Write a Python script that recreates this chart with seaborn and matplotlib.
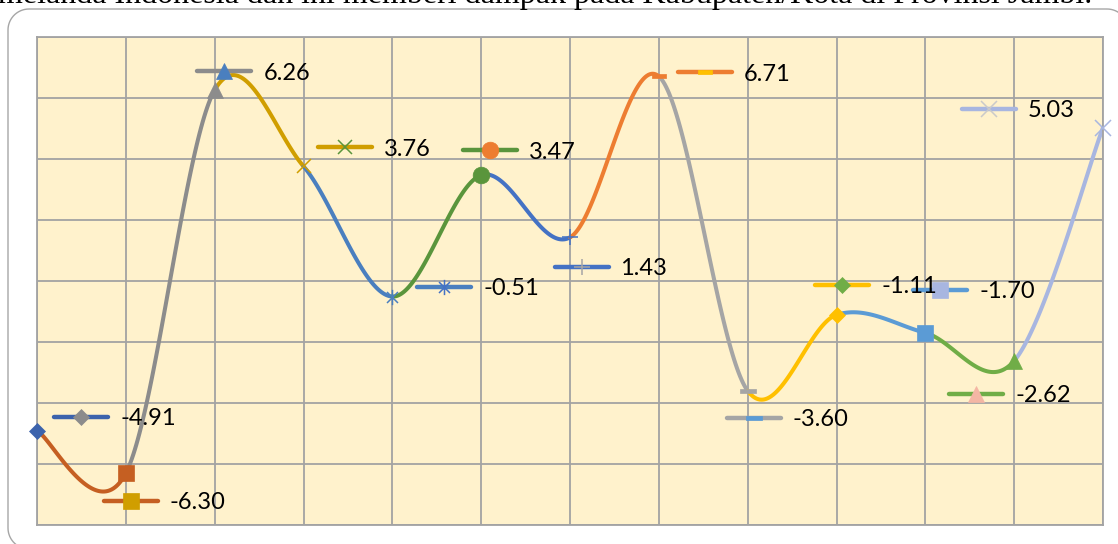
import numpy as np
import pandas as pd
import matplotlib
matplotlib.use("Agg")
import matplotlib.pyplot as plt
import seaborn as sns
from matplotlib.path import Path
from matplotlib.patches import PathPatch

# ---- data -------------------------------------------------------------
positions = list(range(13))
values = [-4.91, -6.30, 6.26, 3.76, -0.51, 3.47, 1.43, 6.71, -3.60, -1.11, -1.70, -2.62, 5.03]

# per-point colours (two extra entries are used by the last label keys)
point_colors = ["#3C63AC", "#C55F22", "#8C8C8C", "#D09E00", "#4A7FBF", "#5A953C",
                "#4472C4", "#ED7D31", "#A5A5A5", "#FFC000", "#5B9BD5", "#70AD47",
                "#A8B6E0", "#F4B6A4", "#CACACA"]

caption = "melanda Indonesia dan ini memberi dampak pada Kabupaten/Kota di Provinsi Jambi."

# ---- marker shapes ----------------------------------------------------
asterisk = Path([(0, -1), (0, 1), (-0.72, -0.72), (0.72, 0.72), (-0.72, 0.72), (0.72, -0.72)],
                [Path.MOVETO, Path.LINETO, Path.MOVETO, Path.LINETO, Path.MOVETO, Path.LINETO])
dash = Path([(-1, -0.24), (1, -0.24), (1, 0.24), (-1, 0.24), (-1, -0.24)],
            [Path.MOVETO, Path.LINETO, Path.LINETO, Path.LINETO, Path.CLOSEPOLY])

# (marker, size in pt, filled?)
marker_styles = [("D", 8.2, True), ("s", 11.5, True), ("^", 11.0, True), ("x", 10.0, False),
                 (asterisk, 11.0, False), ("o", 12.0, True), ("+", 11.0, False), (dash, 10.0, True),
                 (dash, 12.0, True), ("D", 8.2, True), ("s", 11.5, True), ("^", 11.0, True),
                 ("x", 11.0, False)]

# label key placement: offset of key centre from its point, in pixels (right, down)
label_offsets = [(44, -14), (4.7, 27.5), (9.8, -19), (41.5, -19.3), (51.7, -9.6), (8.8, -25),
                 (11.5, 29.6), (46, -4), (6.3, 27), (6, -30), (15, -43), (-38, 33), (-114, -18.6)]

# ---- smoothed path (Bezier through every point) -----------------------
def bezier_segment(pts, i, n=60):
    last = len(pts) - 1
    p0 = pts[max(i - 1, 0)]
    p1 = pts[i]
    p2 = pts[i + 1]
    p3 = pts[min(i + 2, last)]
    c1 = p1 + (p2 - p0) / 6.0
    c2 = p2 - (p3 - p1) / 6.0
    t = np.linspace(0, 1, n)[:, None]
    return ((1 - t) ** 3) * p1 + 3 * ((1 - t) ** 2) * t * c1 + 3 * (1 - t) * t ** 2 * c2 + t ** 3 * p2

pts = np.column_stack([positions, values]).astype(float)
frames = []
for i in range(len(values) - 1):
    seg = bezier_segment(pts, i)
    frames.append(pd.DataFrame({"x": seg[:, 0], "y": seg[:, 1], "segment": i + 1}))
curve = pd.concat(frames, ignore_index=True)

# ---- figure -----------------------------------------------------------
sns.set_theme(style="white")
plt.rcParams["font.family"] = ["Lato", "DejaVu Sans"]

W, H = 1118, 544
fig = plt.figure(figsize=(W / 100, H / 100), dpi=100)
fig.patch.set_facecolor("white")


def rounded_rect(x0, y0, x1, y1, r, n=16):
    """Closed rounded rectangle outline in pixel units (origin top-left)."""
    verts = []
    corners = [(x1 - r, y0 + r, -90, 0), (x1 - r, y1 - r, 0, 90),
               (x0 + r, y1 - r, 90, 180), (x0 + r, y0 + r, 180, 270)]
    for cx, cy, a0, a1 in corners:
        for a in np.radians(np.linspace(a0, a1, n)):
            verts.append((cx + r * np.cos(a), cy + r * np.sin(a)))
    verts.append(verts[0])
    verts = np.array(verts)
    verts[:, 1] = H - verts[:, 1]
    return Path(verts / 100.0)


frame = PathPatch(rounded_rect(8, 9, 1128, 549, 21), transform=fig.dpi_scale_trans,
                  facecolor="none", edgecolor="#A6A6A6", linewidth=1.0)
fig.patches.append(frame)

fig.text(-0.002, 1 - 2.5 / H, caption, family="Liberation Serif", fontsize=23,
         color="black", va="baseline", ha="left")

left, right, top, bottom = 37, 1103, 37, 525
ax = fig.add_axes([left / W, (H - bottom) / H, (right - left) / W, (bottom - top) / H])
ax.set_facecolor("#FFF2CC")
ax.set_xlim(0, 12)
ax.set_ylim(-8, 8)
ax.set_xticks(np.arange(0, 13, 1))
ax.set_yticks(np.arange(-8, 9, 2))
ax.tick_params(length=0, labelbottom=False, labelleft=False)
ax.grid(True, color="#A3A3A3", linewidth=1.3)
for s in ax.spines.values():
    s.set_color("#A3A3A3")
    s.set_linewidth(1.3)

px_x = (right - left) / 12.0
px_y = (bottom - top) / 16.0

# coloured smooth segments
seg_palette = {i: point_colors[i] for i in range(1, len(values))}
sns.lineplot(data=curve, x="x", y="y", hue="segment", palette=seg_palette, sort=False,
             estimator=None, units="segment", linewidth=2.9, legend=False, ax=ax,
             solid_capstyle="round")


def draw_marker(x, y, idx, color, z):
    m, size, filled = marker_styles[idx]
    if filled:
        ax.plot([x], [y], linestyle="none", marker=m, markersize=size,
                markerfacecolor=color, markeredgecolor=color, markeredgewidth=0.5,
                zorder=z, clip_on=False)
    else:
        ax.plot([x], [y], linestyle="none", marker=m, markersize=size,
                markerfacecolor="none", markeredgecolor=color, markeredgewidth=1.1,
                zorder=z, clip_on=False)


# point markers
for i, (x, v) in enumerate(zip(positions, values)):
    draw_marker(x, v, i, point_colors[i], 4)

# value labels with legend keys
for i, (x, v) in enumerate(zip(positions, values)):
    dx, dy = label_offsets[i]
    kx = x + dx / px_x
    ky = v - dy / px_y
    half = 27 / px_x
    ax.plot([kx - half, kx + half], [ky, ky], color=point_colors[i], linewidth=3.2,
            solid_capstyle="round", zorder=6, clip_on=False)
    draw_marker(kx, ky, i, point_colors[i + 2], 7)
    ax.text(kx + 39 / px_x, ky - 2 / px_y, f"{v:.2f}", fontsize=17, color="black",
            ha="left", va="center", zorder=8)

fig.savefig("out.png", dpi=100)
